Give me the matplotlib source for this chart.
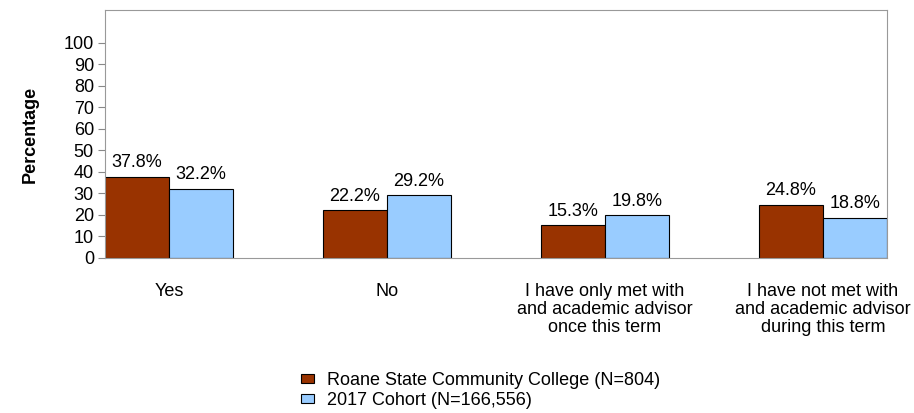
import numpy as np
import matplotlib.pyplot as plt

plt.rcParams['font.family'] = ['Liberation Sans', 'DejaVu Sans']

categories = ['Yes', 'No', 'I have only met with\nand academic advisor\nonce this term',
              'I have not met with\nand academic advisor\nduring this term']
roane = [37.8, 22.2, 15.3, 24.8]
cohort = [32.2, 29.2, 19.8, 18.8]
series_names = ['Roane State Community College (N=804)', '2017 Cohort (N=166,556)']

x = np.arange(len(categories))
w = 0.294
fs = 13

fig = plt.figure(figsize=(9.14, 4.13), dpi=100)
ax = fig.add_axes([105/914, 1 - 258/413, (887-105)/914, (258-10)/413])

b1 = ax.bar(x - w/2, roane, w, color='#993300', edgecolor='black', lw=0.8, label=series_names[0])
b2 = ax.bar(x + w/2, cohort, w, color='#99CCFF', edgecolor='black', lw=0.8, label=series_names[1])

for bars, vals in [(b1, roane), (b2, cohort)]:
    for b, v in zip(bars, vals):
        ax.text(b.get_x() + b.get_width()/2, v + 2.5, f'{v:.1f}%', ha='center', va='bottom', fontsize=fs)

ax.set_xlim(-w, 3 + w)
ax.set_ylim(0, 115.3)
ax.set_yticks(range(0, 101, 10))
ax.set_xticks(x)
ax.set_xticklabels(categories, fontsize=fs, linespacing=1.06)
ax.tick_params(axis='x', length=0, pad=18)
ax.tick_params(axis='y', labelsize=fs, color='#888888', length=5, pad=3)
for s in ax.spines.values():
    s.set_color('#999999')
ax.set_ylabel('Percentage', fontsize=fs, fontweight='bold', labelpad=18)

fig.legend(loc='upper left', bbox_to_anchor=(301/914, 1 - 372/413), frameon=False,
           fontsize=fs, handlelength=0.72, handleheight=0.4, handletextpad=0.72,
           labelspacing=0.15, borderpad=0, borderaxespad=0)

fig.savefig('out.png', dpi=100)
